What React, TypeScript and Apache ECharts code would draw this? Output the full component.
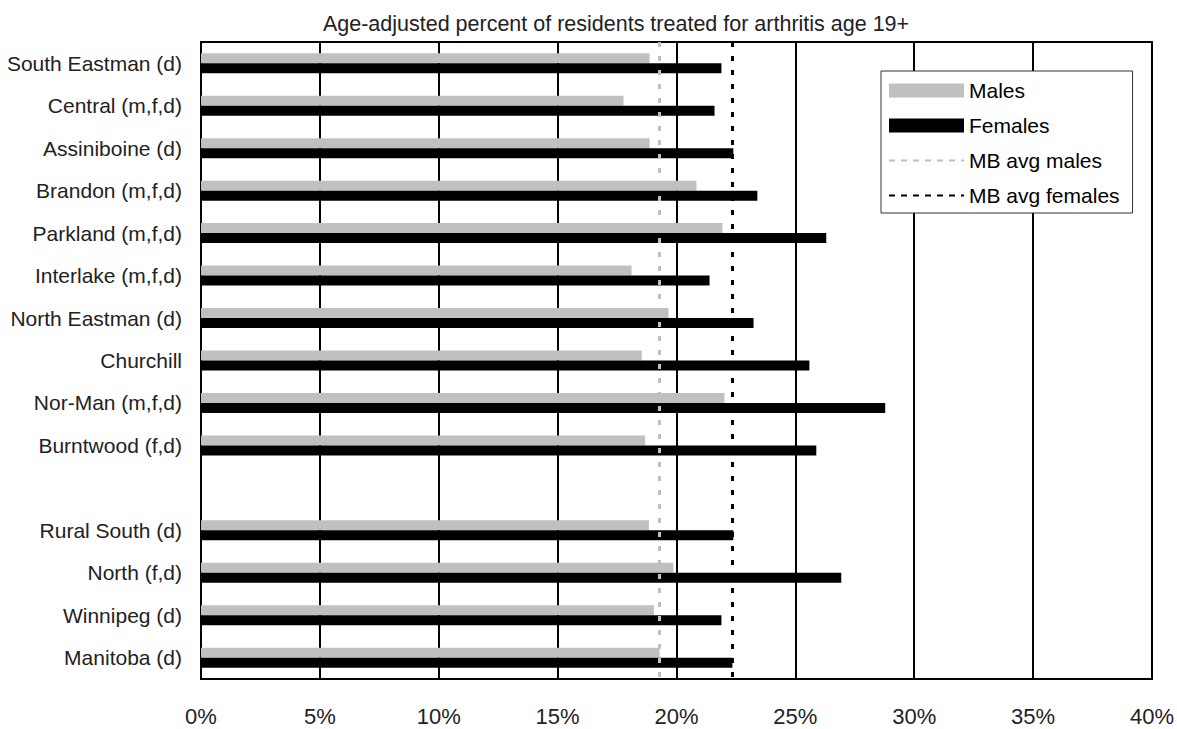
import React, { useEffect, useRef } from "react";
import * as echarts from "echarts";

const categories = [
  "South Eastman (d)",
  "Central (m,f,d)",
  "Assiniboine (d)",
  "Brandon (m,f,d)",
  "Parkland (m,f,d)",
  "Interlake (m,f,d)",
  "North Eastman (d)",
  "Churchill",
  "Nor-Man (m,f,d)",
  "Burntwood (f,d)",
  "",
  "Rural South (d)",
  "North (f,d)",
  "Winnipeg (d)",
  "Manitoba (d)",
];

const males: (number | string)[] = [18.87, 17.77, 18.87, 20.84, 21.93, 18.11, 19.66, 18.54, 22.02, 18.68, "-", 18.84, 19.87, 19.05, 19.29];
const females: (number | string)[] = [21.89, 21.6, 22.39, 23.4, 26.3, 21.39, 23.24, 25.59, 28.78, 25.88, "-", 22.39, 26.93, 21.89, 22.35];

const mbAvgMales = 19.26;
const mbAvgFemales = 22.34;

const xTicks = { min: 0, max: 40, interval: 5 };

const titleText = "Age-adjusted percent of residents treated for arthritis age 19+";
const FONT = "Liberation Sans";

export default function App() {
  const ref = useRef<HTMLDivElement>(null);
  useEffect(() => {
    if (!ref.current) return;
    const chart = echarts.init(ref.current, null, { renderer: "svg" });
    chart.setOption({
      animation: false,
      backgroundColor: "#fff",
      textStyle: { fontFamily: FONT },
      title: {
        text: titleText,
        left: 611,
        textAlign: "center",
        top: 8,
        textStyle: { fontFamily: FONT, fontSize: 21.5, fontWeight: "normal", color: "#222" },
      },
      legend: {
        orient: "vertical",
        left: 881,
        top: 71,
        padding: [9, 13, 7, 7],
        borderColor: "#333",
        borderWidth: 1,
        backgroundColor: "#fff",
        itemWidth: 75,
        itemHeight: 14,
        itemGap: 14,
        itemTextGap: 6,
        selectedMode: false,
        textStyle: { fontFamily: FONT, fontSize: 21, color: "#000" },
        data: [
          { name: "Males", icon: "rect" },
          { name: "Females", icon: "rect" },
          { name: "MB avg males", itemStyle: { opacity: 0 } },
          { name: "MB avg females", itemStyle: { opacity: 0 } },
        ],
      },
      grid: {
        left: 201,
        right: 24,
        top: 42,
        bottom: 50,
        show: true,
        borderColor: "#000",
        borderWidth: 2,
      },
      xAxis: {
        type: "value",
        min: xTicks.min,
        max: xTicks.max,
        interval: xTicks.interval,
        axisLine: { show: true, lineStyle: { color: "#000", width: 2 } },
        axisTick: { show: false },
        axisLabel: {
          formatter: (v: number) => `${v}%`,
          fontFamily: FONT,
          fontSize: 22,
          color: "#222",
          margin: 26,
        },
        splitLine: { show: true, lineStyle: { color: "#000", width: 2 } },
      },
      yAxis: {
        type: "category",
        data: categories,
        inverse: true,
        axisLine: { show: true, lineStyle: { color: "#000", width: 2 } },
        axisTick: { show: false },
        axisLabel: { fontFamily: FONT, fontSize: 21, color: "#222", margin: 19 },
        splitLine: { show: false },
      },
      series: [
        {
          name: "Males",
          type: "bar",
          data: males,
          barWidth: 10,
          barGap: "0%",
          itemStyle: { color: "#c0c0c0" },
        },
        {
          name: "Females",
          type: "bar",
          data: females,
          barWidth: 10,
          barGap: "0%",
          itemStyle: { color: "#000" },
        },
        {
          name: "MB avg males",
          type: "line",
          data: [],
          symbol: "none",
          itemStyle: { color: "#c0c0c0" },
          lineStyle: { color: "#c0c0c0", width: 3, type: [6, 6] },
          markLine: {
            silent: true,
            symbol: ["none", "none"],
            label: { show: false },
            z: 10,
            lineStyle: { color: "#c0c0c0", width: 3, type: [5, 9] },
            data: [{ xAxis: mbAvgMales }],
          },
        },
        {
          name: "MB avg females",
          type: "line",
          data: [],
          symbol: "none",
          itemStyle: { color: "#000" },
          lineStyle: { color: "#000", width: 3, type: [6, 6] },
          markLine: {
            silent: true,
            symbol: ["none", "none"],
            label: { show: false },
            z: 10,
            lineStyle: { color: "#000", width: 3, type: [5, 9] },
            data: [{ xAxis: mbAvgFemales }],
          },
        },
      ],
    });
    return () => chart.dispose();
  }, []);
  return (
    <div
      ref={ref}
      style={{ position: "fixed", left: 0, top: 0, width: 1177, height: 729, background: "#fff" }}
    />
  );
}
